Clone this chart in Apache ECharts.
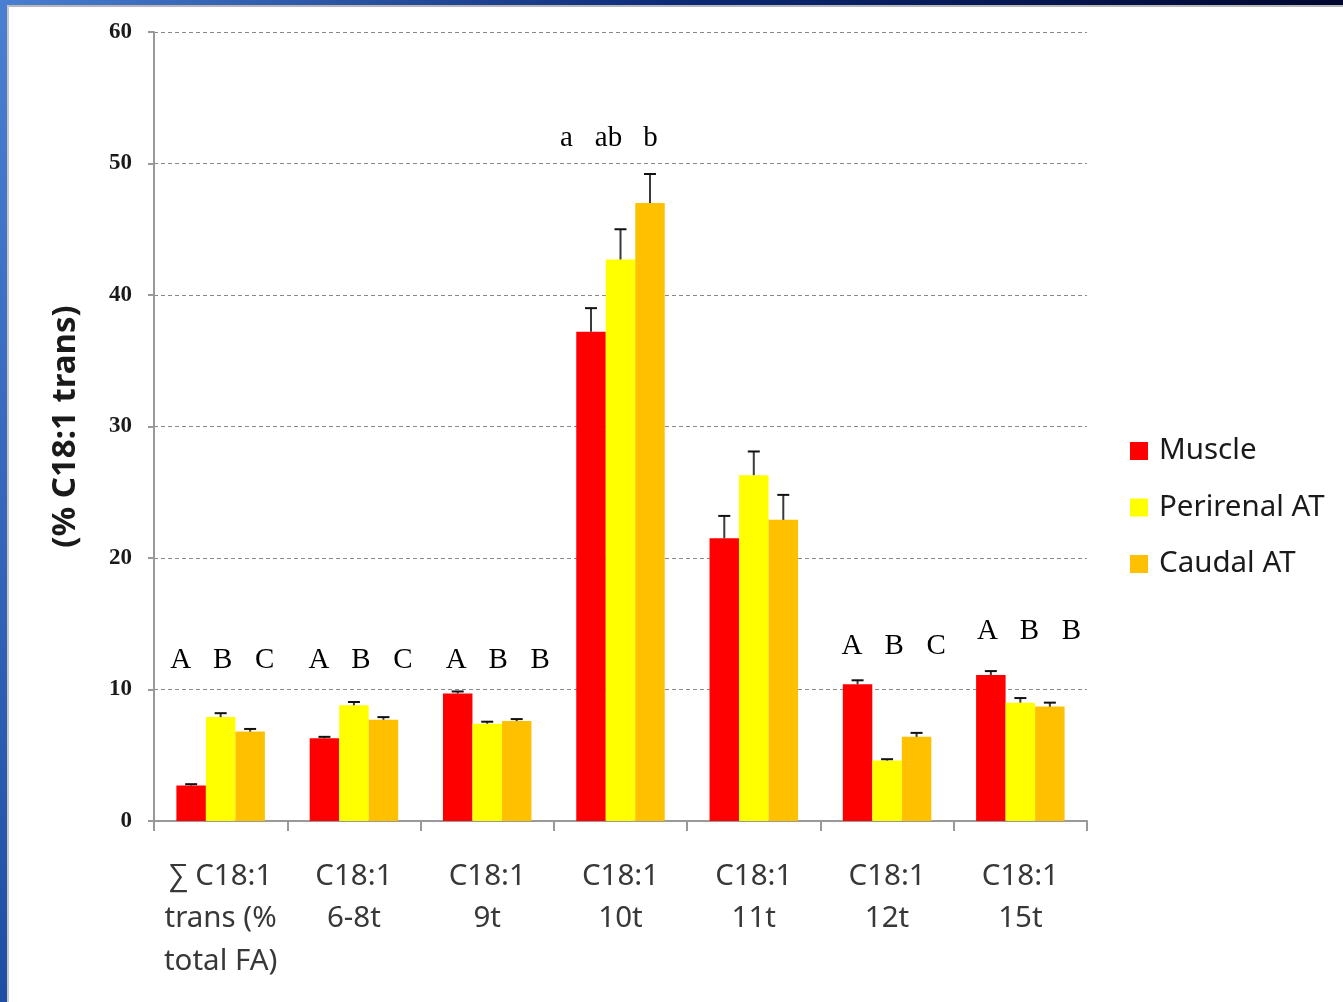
<!DOCTYPE html>
<html>
<head>
<meta charset="utf-8">
<script src="https://cdn.jsdelivr.net/npm/echarts@6/dist/echarts.min.js"></script>
<style>
  html, body { margin: 0; padding: 0; background: #fff; }
  #chart { width: 1343px; height: 1002px; }
</style>
</head>
<body>
<div id="chart"></div>
<script>
// Trans C18:1 isomers by tissue (mean + SEM)
const categories = [
  '∑ C18:1\ntrans (%\ntotal FA)', 'C18:1\n6-8t', 'C18:1\n9t', 'C18:1\n10t',
  'C18:1\n11t', 'C18:1\n12t', 'C18:1\n15t'
];
const seriesNames = ['Muscle', 'Perirenal AT', 'Caudal AT'];
const muscle      = [2.7, 6.3, 9.7, 37.2, 21.5, 10.4, 11.1];
const perirenal   = [7.9, 8.8, 7.4, 42.7, 26.3, 4.6, 9.0];
const caudal      = [6.8, 7.7, 7.6, 47.0, 22.9, 6.4, 8.7];
const muscleErr   = [0.1, 0.1, 0.15, 1.8, 1.7, 0.3, 0.3];
const perirenalErr= [0.3, 0.25, 0.15, 2.3, 1.8, 0.1, 0.35];
const caudalErr   = [0.2, 0.2, 0.15, 2.2, 1.9, 0.3, 0.3];
// significance letters per category (Muscle, Perirenal, Caudal) and the height they sit at
const sigLetters  = [['A','B','C'], ['A','B','C'], ['A','B','B'], ['a','ab','b'], null, ['A','B','C'], ['A','B','B']];
const sigHeight   = [12.2, 12.2, 12.2, 51.9, null, 13.3, 14.45];
const yTicks      = { min: 0, max: 60, interval: 10 };

const colors = ['#ff0000', '#ffff00', '#ffc000'];
const values = [muscle, perirenal, caudal];
const errors = [muscleErr, perirenalErr, caudalErr];
const BAR_W = 29.5;
const LETTER_STEP = 42;
const letterShift = [2, 7, 11, -12, 0, 7, 9];

const chart = echarts.init(document.getElementById('chart'));

const barSeries = values.map((vals, s) => ({
  name: seriesNames[s],
  type: 'bar',
  data: vals,
  barWidth: BAR_W,
  barGap: '0%',
  itemStyle: { color: colors[s] },
  z: 2
}));

const errSeries = values.map((vals, s) => ({
  type: 'custom',
  silent: true,
  z: 3,
  data: vals.map((v, i) => [i, v, errors[s][i]]),
  renderItem(params, api) {
    const i = api.value(0), v = api.value(1), e = api.value(2);
    const base = api.coord([i, v]);
    const top = api.coord([i, v + e]);
    const x = base[0] + (s - 1) * BAR_W;
    return {
      type: 'group',
      children: [
        { type: 'line', shape: { x1: x, y1: base[1], x2: x, y2: top[1] },
          style: { stroke: '#3a3a3a', lineWidth: 2 } },
        { type: 'line', shape: { x1: x - 6, y1: top[1], x2: x + 6, y2: top[1] },
          style: { stroke: '#111', lineWidth: 2 } }
      ]
    };
  }
}));

const letterData = [];
sigLetters.forEach((arr, i) => {
  if (!arr) return;
  arr.forEach((t, k) => letterData.push([i, sigHeight[i], k, t]));
});

const letterSeries = {
  type: 'custom',
  silent: true,
  z: 4,
  data: letterData,
  renderItem(params, api) {
    const i = api.value(0), h = api.value(1), k = api.value(2);
    const txt = letterData[params.dataIndex][3];
    const p = api.coord([i, h]);
    return {
      type: 'text',
      style: {
        x: p[0] + (k - 1) * LETTER_STEP + letterShift[i],
        y: p[1],
        text: txt,
        fill: '#000',
        font: '29px "Liberation Serif", "DejaVu Serif", serif',
        align: 'center',
        verticalAlign: 'middle'
      }
    };
  }
};

chart.setOption({
  animation: false,
  backgroundColor: '#ffffff',
  graphic: [
    { type: 'rect', shape: { x: 0, y: 0, width: 1343, height: 5 },
      style: { fill: new echarts.graphic.LinearGradient(0, 0, 1, 0, [
        { offset: 0, color: '#4a7fd2' }, { offset: 0.5, color: '#0d2a78' }, { offset: 1, color: '#00062e' }]) } },
    { type: 'rect', shape: { x: 0, y: 0, width: 7, height: 1002 },
      style: { fill: new echarts.graphic.LinearGradient(0, 0, 0, 1, [
        { offset: 0, color: '#4a7fd2' }, { offset: 1, color: '#1f4fa5' }]) } },
    { type: 'rect', shape: { x: 7, y: 5, width: 1336, height: 2 }, style: { fill: '#b8b8b8' } },
    { type: 'rect', shape: { x: 7, y: 5, width: 2, height: 997 }, style: { fill: '#c8c8c8' } }
  ],
  grid: { left: 154, top: 32, right: 256, bottom: 181, containLabel: false },
  legend: {
    orient: 'vertical',
    left: 1125,
    top: 431,
    icon: 'rect',
    itemWidth: 18,
    itemHeight: 18,
    itemGap: 26.5,
    data: seriesNames,
    textStyle: {
      fontFamily: '"Noto Sans", "Open Sans", sans-serif',
      fontSize: 29.5,
      color: '#1a1a1a',
      lineHeight: 30,
      padding: [0, 0, 0, 6]
    }
  },
  xAxis: {
    type: 'category',
    data: categories,
    axisLine: { lineStyle: { color: '#999', width: 2 } },
    axisTick: { show: true, length: 10, interval: 0, lineStyle: { color: '#999', width: 2 } },
    axisLabel: {
      interval: 0,
      margin: 34,
      fontFamily: '"Noto Sans", "Open Sans", sans-serif',
      fontSize: 29.5,
      lineHeight: 42.5,
      color: '#383838'
    }
  },
  yAxis: {
    type: 'value',
    min: yTicks.min,
    max: yTicks.max,
    interval: yTicks.interval,
    name: '(% C18:1 trans)',
    nameLocation: 'middle',
    nameGap: 72,
    nameRotate: 90,
    nameTextStyle: {
      fontFamily: '"Noto Sans", "Open Sans", sans-serif',
      fontWeight: 'bold',
      fontSize: 33,
      color: '#1a1a1a'
    },
    axisLine: { show: true, lineStyle: { color: '#999', width: 2 } },
    axisTick: { show: true, length: 6, lineStyle: { color: '#999', width: 2 } },
    axisLabel: {
      margin: 22,
      fontFamily: '"Liberation Serif", "DejaVu Serif", serif',
      fontWeight: 'bold',
      fontSize: 23,
      color: '#1a1a1a'
    },
    splitLine: { show: true, lineStyle: { color: '#8a8a8a', type: [4, 3], width: 1 } }
  },
  series: [...barSeries, ...errSeries, letterSeries]
});
</script>
</body>
</html>
